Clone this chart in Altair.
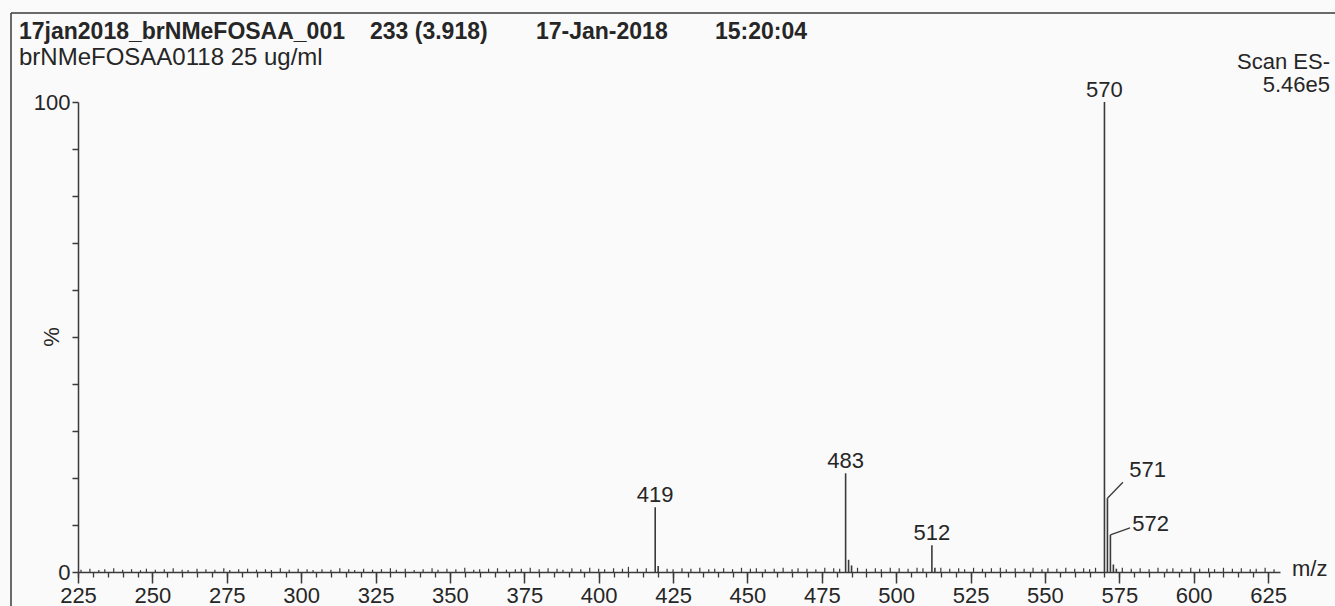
import altair as alt
import pandas as pd

# Labelled peaks of the ES- scan (m/z, relative intensity %)
peak_mz = [419, 420, 483, 484, 485, 512, 513, 570, 571, 572, 573, 574]
peak_int = [13.8, 1.3, 21.0, 2.6, 1.4, 5.7, 0.9, 100.0, 15.7, 7.9, 1.6, 0.7]

# Low-level baseline signal
noise_mz = [226, 229, 232, 234, 237, 240, 243, 246, 248, 251,
            254, 257, 260, 262, 265, 268, 271, 274, 276, 279,
            282, 285, 288, 290, 293, 296, 299, 302, 304, 307,
            310, 313, 316, 318, 321, 324, 327, 330, 332, 335,
            338, 341, 344, 346, 349, 352, 355, 358, 360, 363,
            366, 369, 372, 374, 377, 380, 383, 386, 388, 391,
            394, 397, 400, 402, 405, 408, 410, 413, 416, 423,
            425, 428, 431, 434, 437, 439, 442, 445, 448, 451,
            453, 456, 459, 462, 465, 467, 470, 473, 476, 479,
            481, 487, 490, 493, 495, 498, 501, 504, 507, 509,
            515, 518, 521, 523, 526, 529, 532, 535, 537, 540,
            543, 546, 549, 551, 554, 557, 560, 563, 565, 567,
            576, 579, 582, 585, 588, 591, 593, 596, 599, 602,
            605, 607, 610, 613, 616, 619, 621, 624, 627]
noise_int = [0.5, 0.7, 0.4, 0.6, 0.8, 0.5, 0.6, 0.4, 0.7, 0.5,
             0.6, 0.8, 0.5, 0.4, 0.7, 0.6, 0.5, 0.8, 0.4, 0.6,
             0.7, 0.5, 0.6, 0.4, 0.8, 0.5, 0.7, 0.6, 0.4, 0.6,
             0.5, 0.8, 0.6, 0.4, 0.7, 0.5, 0.6, 0.8, 0.5, 0.7,
             0.4, 0.6, 0.8, 0.5, 0.7, 0.6, 0.9, 0.5, 0.6, 0.7,
             0.8, 0.5, 0.6, 0.7, 0.9, 0.6, 0.8, 0.7, 0.5, 0.8,
             0.6, 0.9, 0.7, 0.6, 0.8, 0.7, 1.1, 0.7, 0.8, 0.7,
             0.6, 0.8, 0.7, 0.9, 0.6, 0.7, 0.8, 0.6, 0.9, 0.7,
             0.8, 0.6, 0.7, 0.9, 0.6, 0.8, 0.7, 0.6, 0.9, 0.8,
             0.7, 0.9, 0.7, 0.8, 0.6, 0.9, 0.8, 0.7, 0.9, 0.8,
             0.9, 0.7, 0.8, 0.6, 0.9, 0.7, 0.8, 0.9, 0.6, 0.8,
             0.7, 0.9, 0.6, 0.8, 0.7, 0.9, 0.7, 0.8, 0.6, 0.9,
             0.9, 0.7, 0.8, 0.6, 0.9, 0.7, 0.8, 0.6, 0.9, 0.7,
             0.8, 0.6, 0.9, 0.7, 0.8, 0.6, 0.7, 0.9, 0.6]

# Peaks annotated directly above the stick
label_mz = [419, 483, 512, 570]
label_int = [13.8, 21.0, 5.7, 100.0]

# Peaks annotated with a leader line (m/z, intensity, label position)
lead_mz = [571, 572]
lead_int = [15.7, 7.9]
lead_end_mz = [576.2, 578.6]
lead_end_int = [19.1, 9.4]
lead_text_mz = [584.5, 585.5]
lead_text_int = [21.6, 10.2]

x_major = list(range(225, 626, 25))
x_minor = list(range(225, 630, 5))
y_ticks = list(range(0, 101, 10))

INK = "#3a3a3a"
TXT = "#262626"
FONT = "Liberation Sans"

noise = pd.DataFrame({"mz": noise_mz, "inten": noise_int})
peaks = pd.DataFrame({"mz": peak_mz, "inten": peak_int})
labels = pd.DataFrame({"mz": label_mz, "inten": label_int,
                       "txt": [str(v) for v in label_mz]})
leaders = pd.DataFrame({"mz": lead_mz, "inten": lead_int,
                        "mz2": lead_end_mz, "inten2": lead_end_int,
                        "tx": lead_text_mz, "ty": lead_text_int,
                        "txt": [str(v) for v in lead_mz]})

xscale = alt.Scale(domain=[225, 629], nice=False, zero=False)
yscale = alt.Scale(domain=[0, 100], nice=False)

# labelled axes: every 25 m/z along x, every 10 % along y
x_axis = alt.Axis(
    values=x_major, orient="bottom", tickSize=11, tickWidth=1.5, tickColor=INK,
    domainColor=INK, domainWidth=1.6, labelOverlap=False, labelFlush=False,
    labelFontSize=22, labelFont=FONT, labelColor=TXT, labelPadding=2, grid=False)
y_axis = alt.Axis(
    values=y_ticks, orient="left", tickSize=6, tickWidth=1.5, tickColor=INK,
    domainColor=INK, domainWidth=1.5, labelOverlap=False, labelFlush=False,
    labelFontSize=22, labelFont=FONT, labelColor=TXT, labelPadding=2, grid=False,
    labelExpr="datum.value == 0 || datum.value == 100 ? datum.label : ''")
# short unlabelled ticks every 5 m/z
x_minor_axis = alt.Axis(
    values=x_minor, orient="bottom", tickSize=5, tickWidth=1.3, tickColor=INK,
    labels=False, domain=False, grid=False)


def X(field, axis=None):
    return alt.X(field, type="quantitative", scale=xscale, title=None, axis=axis)


def Y(field, axis=None):
    return alt.Y(field, type="quantitative", scale=yscale, title=None, axis=axis)


peak_layer = alt.Chart(peaks).mark_rule(color=INK, strokeWidth=1.6).encode(
    x=X("mz", x_axis), y=Y("inten", y_axis), y2=alt.datum(0))

noise_layer = alt.Chart(noise).mark_rule(color=INK, strokeWidth=1.2).encode(
    x=X("mz", x_minor_axis), y=Y("inten"), y2=alt.datum(0))

label_layer = alt.Chart(labels).mark_text(
    fontSize=22, font=FONT, color=TXT, baseline="alphabetic", dy=-5).encode(
    x=X("mz"), y=Y("inten"), text="txt:N")

leader_layer = alt.Chart(leaders).mark_rule(color=INK, strokeWidth=1.3).encode(
    x=X("mz"), y=Y("inten"), x2="mz2:Q", y2="inten2:Q")

leader_text = alt.Chart(leaders).mark_text(
    fontSize=22, font=FONT, color=TXT, baseline="middle").encode(
    x=X("tx"), y=Y("ty"), text="txt:N")

one = pd.DataFrame({"a": [0]})


def note(text, px, py, size=22, weight="normal", align="left", angle=0):
    return alt.Chart(one).mark_text(
        text=text, fontSize=size, font=FONT, fontWeight=weight, color=TXT,
        align=align, baseline="middle", angle=angle).encode(
        x=alt.value(px), y=alt.value(py))


# header block
head = [
    note("17jan2018_brNMeFOSAA_001", -59, -70, 23, "bold"),
    note("233 (3.918)", 292, -70, 23, "bold"),
    note("17-Jan-2018", 458, -70, 23, "bold"),
    note("15:20:04", 637, -70, 23, "bold"),
    note("brNMeFOSAA0118 25 ug/ml", -59, -44, 24),
    note("Scan ES-", 1252, -40, 22, align="right"),
    note("5.46e5", 1252, -17, 22, align="right"),
    note("m/z", 1214, 467, 22),
    note("%", -26, 235, 22, align="center", angle=270),
]

frame_top = alt.Chart(one).mark_rule(color=INK, strokeWidth=1.5).encode(
    x=alt.value(-67), x2=alt.value(1260), y=alt.value(-89))
frame_left = alt.Chart(one).mark_rule(color=INK, strokeWidth=1.5).encode(
    x=alt.value(-67), y=alt.value(-89), y2=alt.value(510))

chart = alt.layer(
    peak_layer, noise_layer, label_layer, leader_layer, leader_text,
    *head, frame_top, frame_left,
).resolve_axis(x="independent", y="independent").properties(
    width=1202, height=470,
    autosize=alt.AutoSizeParams(type="none"),
    padding={"left": 78, "top": 102, "right": 55, "bottom": 34},
    background="#fafafa",
).configure_view(stroke=None)

chart.save("out.html", embed_options={"renderer": "svg", "actions": False})
